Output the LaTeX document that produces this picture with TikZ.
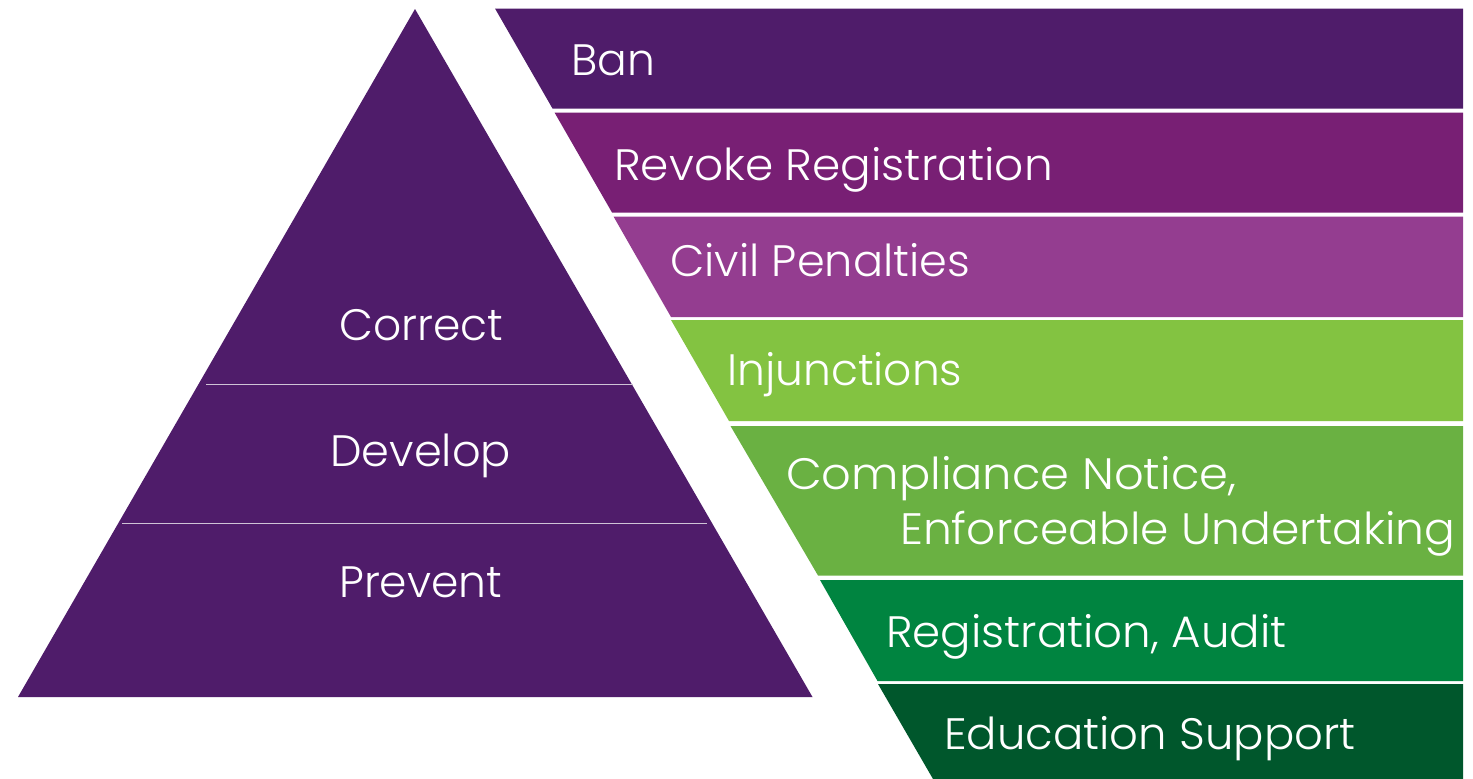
\documentclass[tikz,border=0pt]{standalone}
\usepackage{fontspec}
\usepackage{graphicx}
\setmainfont{Poppins}[UprightFont=* Light]
\newcommand{\hstretchlab}[2]{\scalebox{#1}[1]{#2}}
\definecolor{pdeep}{HTML}{4F1C6A}
\definecolor{pmag}{HTML}{781F74}
\definecolor{porch}{HTML}{943D90}
\definecolor{glime}{HTML}{83C341}
\definecolor{gleaf}{HTML}{6AB142}
\definecolor{gmid}{HTML}{008440}
\definecolor{gdark}{HTML}{00572C}
\definecolor{rulec}{HTML}{CFC3D6}
\tikzset{
  band/.style={fill=#1,draw=none},
  lab/.style={anchor=base west,inner sep=0pt,text=white,font=\fontsize{44}{44}\selectfont},
  rulel/.style={draw=rulec,line width=1pt}
}
\begin{document}
\begin{tikzpicture}[x=1pt,y=-1pt]
\useasboundingbox (0,0) rectangle (1473,779);
\fill[white] (0,0) rectangle (1473,779);
% pyramid
\fill[pdeep] (415,9) -- (812.5,697) -- (18,697) -- cycle;
\coordinate (l1a) at (206,384.5); \coordinate (l1b) at (633,384.5);
\coordinate (l2a) at (122,523.5); \coordinate (l2b) at (707,523.5);
\draw[rulel] (l1a) -- (l1b);
\draw[rulel] (l2a) -- (l2b);
% bands
\fill[band=pdeep] (495,8.5) -- (1463,8.5) -- (1463,108.5) -- (552.5,108.5) -- cycle;
\fill[band=pmag] (554.5,112.5) -- (1463,112.5) -- (1463,212.5) -- (612,212.5) -- cycle;
\fill[band=porch] (613.5,216.5) -- (1463,216.5) -- (1463,317) -- (671,317) -- cycle;
\fill[band=glime] (671,320) -- (1463,320) -- (1463,421) -- (729,421) -- cycle;
\fill[band=gleaf] (730.5,426) -- (1463,426) -- (1463,575.5) -- (818,575.5) -- cycle;
\fill[band=gmid] (820,580) -- (1463,580) -- (1463,681) -- (877.5,681) -- cycle;
\fill[band=gdark] (878,684) -- (1463,684) -- (1463,779) -- (933,779) -- cycle;
% labels
\node[lab] (ban) at (571.5,75) {Ban};
\node[lab] (rev) at (614,180) {\hstretchlab{1.033}{Revoke Registration}};
\node[lab] (civ) at (670,276) {\hstretchlab{1.014}{Civil Penalties}};
\node[lab] (inj) at (727,385) {Injunctions};
\node[lab] (com) at (786,489) {\hstretchlab{1.054}{Compliance Notice,}};
\node[lab] (enf) at (900,544) {\hstretchlab{1.036}{Enforceable Undertaking}};
\node[lab] (reg) at (886,647) {\hstretchlab{1.026}{Registration, Audit}};
\node[lab] (edu) at (944,749) {\hstretchlab{1.022}{Education Support}};
\node[lab] (cor) at (339,340) {Correct};
\node[lab] (dev) at (330,466) {\hstretchlab{1.017}{Develop}};
\node[lab] (pre) at (339,597) {Prevent};
\end{tikzpicture}
\end{document}
